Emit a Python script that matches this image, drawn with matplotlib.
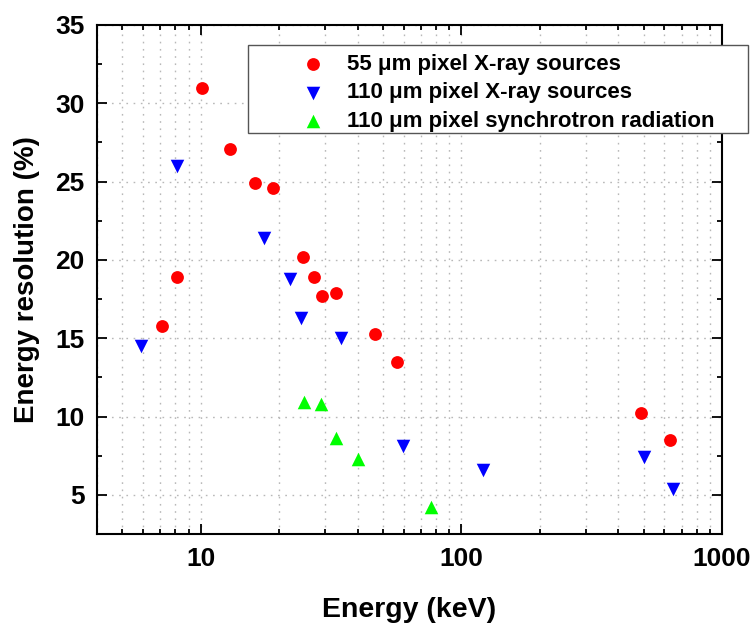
import matplotlib
matplotlib.use("Agg")
import matplotlib.pyplot as plt
from matplotlib.patches import Rectangle
from matplotlib.ticker import LogLocator, MultipleLocator, NullFormatter

# --- data --------------------------------------------------------------
e55 = [7.1, 8.1, 10.1, 12.9, 16.1, 19.0, 24.7, 27.2, 29.2, 33.0, 46.5, 56.5, 488, 631]
r55 = [15.8, 18.9, 31.0, 27.1, 24.9, 24.6, 20.2, 18.9, 17.7, 17.9, 15.3, 13.5, 10.2, 8.5]

e110 = [5.9, 8.1, 17.5, 22.1, 24.3, 34.5, 59.5, 121, 500, 650]
r110 = [14.5, 26.0, 21.4, 18.8, 16.3, 15.0, 8.1, 6.6, 7.4, 5.4]

e_sync = [24.9, 29.0, 33.0, 40.1, 76.2]
r_sync = [10.9, 10.8, 8.6, 7.3, 4.2]

labels = ["55 \u03bcm pixel X-ray sources",
          "110 \u03bcm pixel X-ray sources",
          "110 \u03bcm pixel synchrotron radiation"]

plt.rcParams["font.family"] = ["Liberation Sans", "DejaVu Sans"]
plt.rcParams["font.weight"] = "bold"

W, H = 755, 623
fig = plt.figure(figsize=(W / 100, H / 100), dpi=100)
ax = fig.add_axes([97 / W, 1 - 534 / H, (722 - 97) / W, (534 - 25) / H])

ax.scatter(e55, r55, s=85, marker="o", color="#ff0000", lw=0, zorder=3, label=labels[0])
ax.scatter(e110, r110, s=95, marker="v", color="#0000ff", lw=0, zorder=3, label=labels[1])
ax.scatter(e_sync, r_sync, s=95, marker="^", color="#00ff00", lw=0, zorder=3, label=labels[2])

ax.set_xscale("log")
ax.set_xlim(4, 1000)
ax.set_ylim(2.5, 35)
ax.xaxis.set_major_locator(LogLocator(base=10))
ax.xaxis.set_minor_locator(LogLocator(base=10, subs=range(2, 10)))
ax.xaxis.set_minor_formatter(NullFormatter())
ax.xaxis.set_major_formatter(plt.FuncFormatter(lambda v, _: f"{v:g}"))
ax.yaxis.set_major_locator(MultipleLocator(5))
ax.yaxis.set_minor_locator(MultipleLocator(2.5))

# sparse dotted grid, like the original
dots = (0, (1.2, 4))
ax.grid(True, which="major", ls=dots, color="#b8b8b8", lw=1.0)
ax.grid(True, which="minor", axis="x", ls=dots, color="#b8b8b8", lw=1.0)
ax.set_axisbelow(True)

for sp in ax.spines.values():
    sp.set_linewidth(1.5)
ax.tick_params(which="both", direction="in", top=True, right=True, width=1.3,
               labelsize=19, pad=9)
ax.tick_params(which="major", length=7)
ax.tick_params(which="minor", length=3.6)
ax.set_yticks([5, 10, 15, 20, 25, 30, 35])

ax.set_xlabel("Energy (keV)", fontsize=20.5, fontweight="bold", labelpad=19)
ax.set_ylabel("Energy resolution (%)", fontsize=20, fontweight="bold", labelpad=11)

# legend box (extends past the right spine as in the original)
fig.patches.append(Rectangle((248 / W, 1 - 133 / H), (748 - 248) / W, (133 - 45) / H,
                             transform=fig.transFigure, fill=True, facecolor="white",
                             edgecolor="#555555", lw=1.0, zorder=5))
leg = fig.legend(loc="upper left", bbox_to_anchor=(284 / W, 1 - 43 / H),
                 frameon=False, borderpad=0, handlelength=1.6, handletextpad=0.75,
                 labelspacing=0.33, prop={"size": 16, "weight": "bold"},
                 scatterpoints=1)
leg.set_zorder(6)

fig.savefig("out.png", dpi=100)
